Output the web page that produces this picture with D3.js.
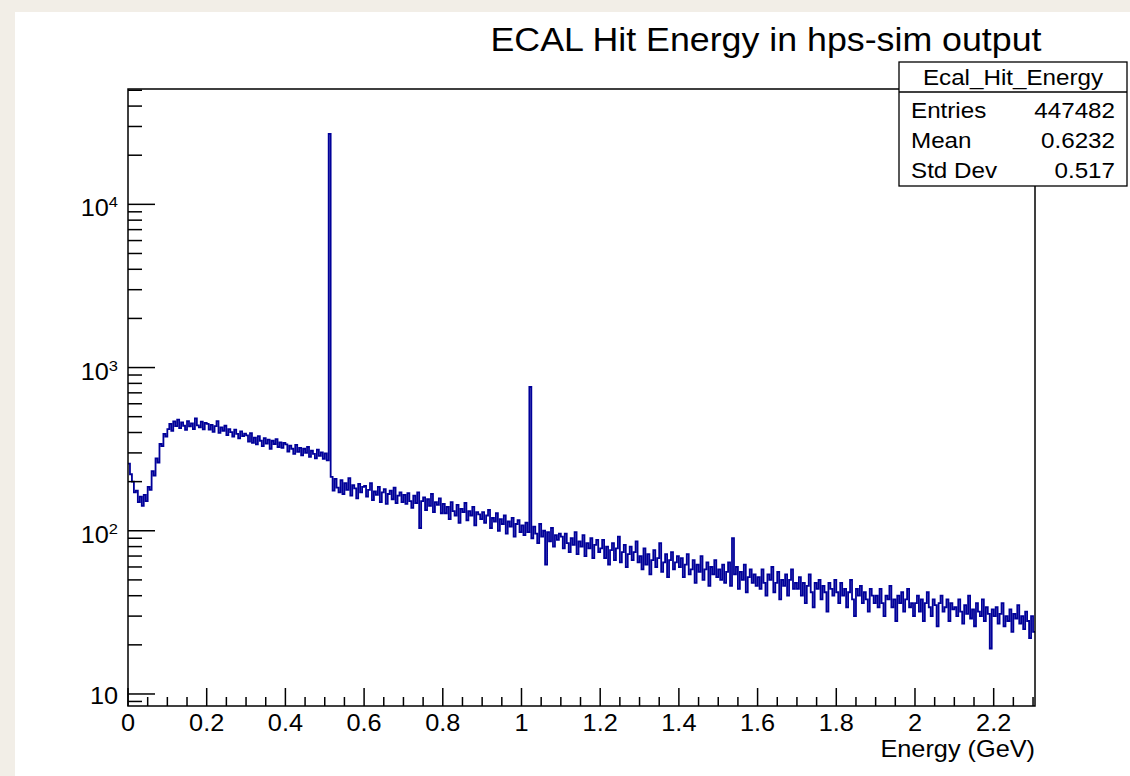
<!DOCTYPE html>
<html lang="en">
<head>
<meta charset="UTF-8" />
<title>ECAL Hit Energy in hps-sim output</title>
<script src="https://d3js.org/d3.v7.min.js"></script>
<style>
    html, body { margin: 0; padding: 0; background: #f2eee7; }
    svg { display: block; }
    text { font-family: "Liberation Sans", Arial, Helvetica, sans-serif; fill: #000; }
</style>
</head>
<body>
<svg id="chart" width="1130" height="776"></svg>
<script>
// --- Data (bin contents, 0.005 GeV bins) ---
const binWidth = 0.005;

// 0.000 - 0.495 GeV
const countsLow = [
    258, 222, 200, 172, 176, 150, 162, 142, 166, 152, 186, 178, 232, 218, 278, 262, 340, 330, 392, 378,
    420, 452, 410, 468, 438, 480, 425, 462, 440, 415, 470, 436, 455, 420, 488, 442, 430, 466, 418, 458,
    452, 416, 446, 404, 438, 470, 398, 430, 410, 440, 386, 420, 402, 378, 416, 392, 368, 406, 380, 394,
    384, 352, 396, 346, 372, 338, 380, 356, 330, 370, 342, 362, 318, 356, 340, 364, 326, 348, 322, 346,
    338, 306, 332, 318, 296, 336, 304, 322, 290, 318, 300, 326, 284, 310, 296, 278, 314, 288, 302, 276
];
// 0.500 - 0.995 GeV (511 keV line)
const countsMid = [
    298, 270, 27000, 214, 176, 208, 184, 172, 204, 168, 196, 178, 210, 164, 190, 182, 158, 194, 172, 186,
    188, 162, 178, 196, 154, 174, 166, 186, 150, 172, 180, 146, 168, 176, 156, 184, 148, 164, 172, 150,
    166, 146, 170, 152, 138, 164, 148, 172, 104, 152, 160, 134, 156, 142, 168, 130, 150, 144, 158, 128,
    146, 128, 140, 118, 150, 132, 124, 144, 112, 136, 130, 148, 116, 132, 124, 140, 108, 130, 126, 118,
    130, 112, 124, 134, 104, 120, 114, 128, 100, 118, 110, 124, 96, 114, 106, 120, 92, 110, 116, 98
];
// 1.000 - 1.495 GeV (1.022 MeV line)
const countsHigh = [
    108, 94, 112, 98, 760, 90, 106, 96, 84, 110, 92, 100, 62, 98, 86, 104, 80, 94, 88, 96,
    92, 78, 96, 84, 74, 90, 82, 98, 72, 86, 80, 94, 70, 84, 78, 90, 68, 82, 88, 74,
    78, 88, 68, 80, 62, 76, 84, 66, 78, 92, 64, 74, 82, 60, 72, 80, 66, 74, 86, 64,
    70, 58, 78, 62, 72, 54, 66, 76, 60, 68, 84, 56, 64, 72, 52, 66, 74, 58, 64, 70,
    60, 68, 52, 62, 72, 54, 58, 66, 48, 62, 56, 70, 50, 58, 64, 46, 60, 54, 66, 52
];
// 1.500 - 2.300 GeV
const countsTail = [
    58, 50, 62, 48, 56, 64, 46, 90, 54, 60, 44, 56, 50, 62, 42, 52, 58, 48, 54, 46,
    52, 44, 58, 48, 40, 54, 50, 60, 42, 48, 56, 38, 50, 46, 54, 40, 50, 58, 44, 48,
    44, 52, 40, 48, 36, 46, 54, 42, 34, 48, 44, 50, 38, 46, 42, 32, 48, 44, 40, 50,
    42, 36, 48, 40, 44, 34, 42, 50, 38, 30, 44, 40, 46, 36, 42, 38, 32, 44, 40, 36,
    40, 34, 44, 36, 30, 40, 38, 46, 34, 38, 28, 40, 36, 42, 32, 38, 44, 34, 36, 30,
    36, 40, 32, 38, 28, 36, 42, 34, 30, 38, 35, 26, 36, 40, 32, 34, 38, 28, 36, 33,
    34, 30, 38, 32, 27, 35, 31, 40, 29, 33, 26, 36, 32, 30, 38, 28, 34, 31, 19, 33,
    30, 34, 27, 31, 36, 26, 30, 28, 33, 24, 31, 29, 35, 27, 30, 25, 32, 28, 22, 30,
    24
];

const xMajorTicks = [0, 0.2, 0.4, 0.6, 0.8, 1.0, 1.2, 1.4, 1.6, 1.8, 2.0, 2.2];
const xTickLabels = ["0", "0.2", "0.4", "0.6", "0.8", "1", "1.2", "1.4", "1.6", "1.8", "2", "2.2"];
const yDecades = [10, 100, 1000, 10000];
const yDecadeExp = ["", "2", "3", "4"];

const chartTitle = "ECAL Hit Energy in hps-sim output";
const xTitle = "Energy (GeV)";
const statsName = "Ecal_Hit_Energy";
const statsLabels = ["Entries", "Mean", "Std Dev"];
const statsValues = ["447482", "0.6232", "0.517"];

// --- Setup ---
const svg = d3.select("#chart");
const frame = { left: 128, right: 1035, top: 89, bottom: 706 };
const sx = 1.1; // the reference text is a bit wide

const x = d3.scaleLinear().domain([0, 2.305]).range([frame.left, frame.right]);
const y = d3.scaleLog().domain([8.44, 50900]).range([frame.bottom, frame.top]);

function label(g, px, py, str, size, anchor) {
    return g.append("text")
        .attr("transform", `translate(${px},${py}) scale(${sx},1)`)
        .attr("text-anchor", anchor || "start")
        .attr("font-size", size)
        .text(str);
}

// white canvas on beige paper
svg.append("rect").attr("x", 15).attr("y", 12).attr("width", 1115).attr("height", 764).attr("fill", "#fff");

// histogram
const counts = [].concat(countsLow, countsMid, countsHigh, countsTail);
const pts = counts.map((c, i) => [i * binWidth, c]);
pts.push([counts.length * binWidth, counts[counts.length - 1]]);

svg.append("clipPath").attr("id", "clip")
    .append("rect")
    .attr("x", frame.left).attr("y", frame.top)
    .attr("width", frame.right - frame.left).attr("height", frame.bottom - frame.top);

const line = d3.line()
    .x(d => x(d[0]))
    .y(d => y(d[1]))
    .curve(d3.curveStepAfter);

svg.append("path")
    .datum(pts)
    .attr("clip-path", "url(#clip)")
    .attr("fill", "none")
    .attr("stroke", "#000099")
    .attr("stroke-width", 1.8)
    .attr("d", line);

// frame
svg.append("rect")
    .attr("x", frame.left).attr("y", frame.top)
    .attr("width", frame.right - frame.left).attr("height", frame.bottom - frame.top)
    .attr("fill", "none").attr("stroke", "#000").attr("stroke-width", 1.5);

// x ticks (pointing up, inside)
const axes = svg.append("g").attr("stroke", "#000").attr("stroke-width", 1.5);
for (let i = 0; i <= 46; i++) {
    const v = i * 0.05;
    if (v > 2.305) break;
    const len = i % 4 === 0 ? 18 : 9;
    axes.append("line")
        .attr("x1", x(v)).attr("x2", x(v))
        .attr("y1", frame.bottom).attr("y2", frame.bottom - len);
}
const labels = svg.append("g");
xMajorTicks.forEach((v, i) => label(labels, x(v), 731, xTickLabels[i], 23, "middle"));
label(labels, frame.right, 757, xTitle, 23, "end");

// y ticks (pointing right, inside)
const [ylo, yhi] = y.domain();
[1, 10, 100, 1000, 10000].forEach(d => {
    for (let k = 1; k <= 9; k++) {
        const v = k * d;
        if (v < ylo || v > yhi) continue;
        const len = k === 1 ? 27 : 14;
        axes.append("line")
            .attr("x1", frame.left).attr("x2", frame.left + len)
            .attr("y1", y(v)).attr("y2", y(v));
    }
});
yDecades.forEach((v, i) => {
    const exp = yDecadeExp[i];
    const t = label(labels, 118, y(v) + (exp ? 12 : 10), "10", 23, "end");
    if (exp) {
        t.append("tspan").attr("font-size", 15).attr("dy", -9).text(exp);
    }
});

// title
label(labels, 766, 51, chartTitle, 32.5, "middle");

// stats box
const box = { x: 899, y: 62, w: 228, h: 124 };
const stats = svg.append("g");
stats.append("rect")
    .attr("x", box.x).attr("y", box.y).attr("width", box.w).attr("height", box.h)
    .attr("fill", "#fff").attr("stroke", "#000").attr("stroke-width", 1.3);
stats.append("line")
    .attr("x1", box.x).attr("x2", box.x + box.w)
    .attr("y1", 92).attr("y2", 92)
    .attr("stroke", "#000").attr("stroke-width", 1.3);
label(stats, box.x + box.w / 2, 85, statsName, 22, "middle");
statsLabels.forEach((s, i) => {
    label(stats, 911, 118 + i * 30, s, 22, "start");
    label(stats, 1115, 118 + i * 30, statsValues[i], 22, "end");
});
</script>
</body>
</html>
